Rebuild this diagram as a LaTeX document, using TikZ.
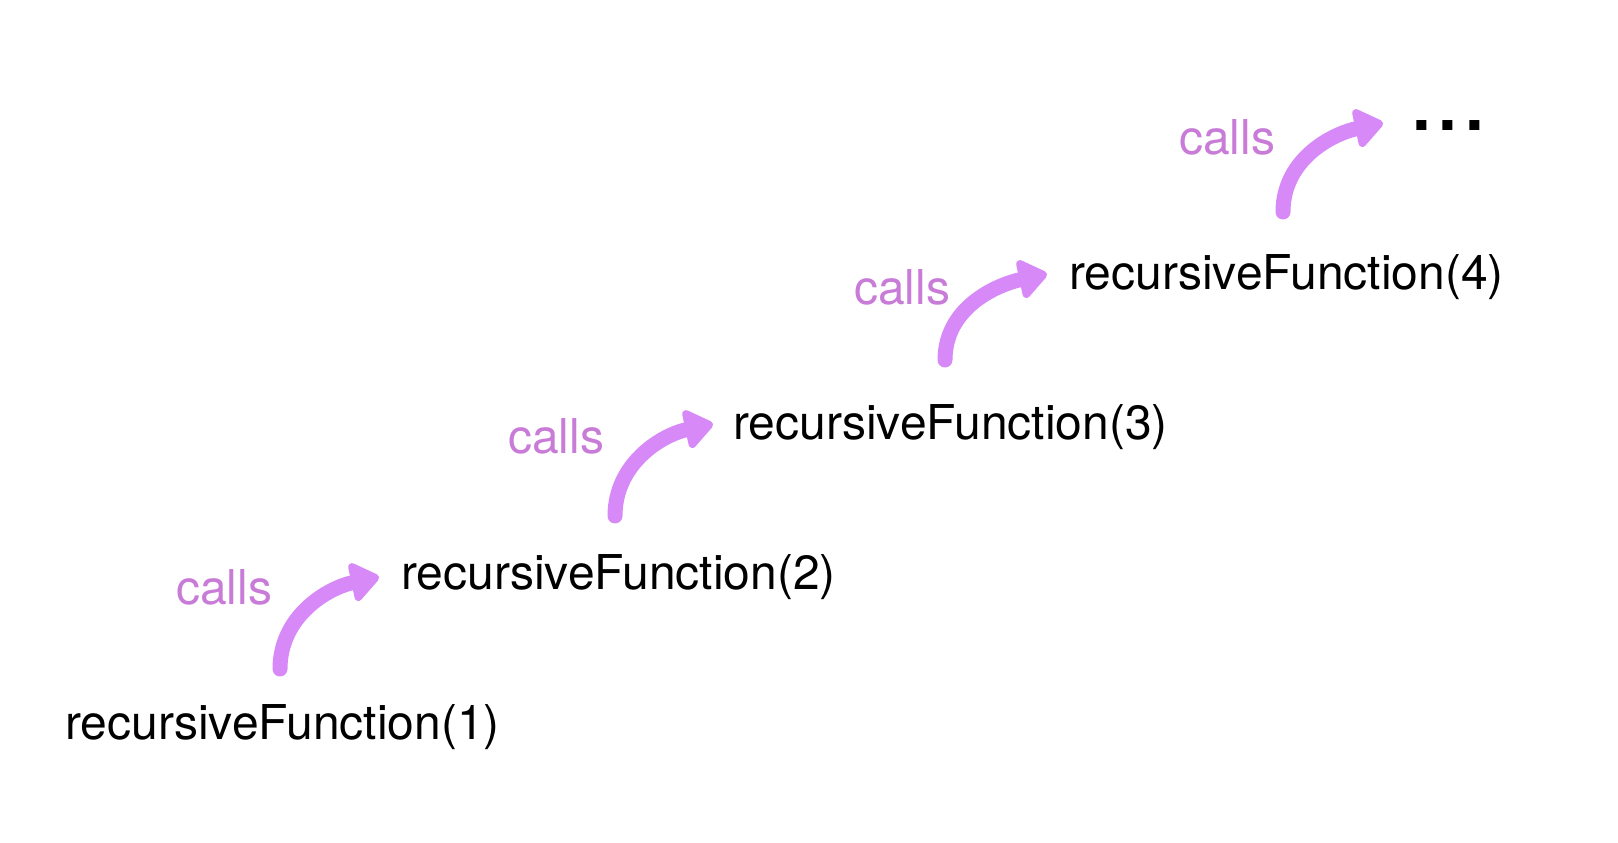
\documentclass[tikz,border=0pt]{standalone}
\usepackage{fontspec}
\setmainfont{TeX Gyre Heros}
\usetikzlibrary{arrows.meta,calc}
\definecolor{arrowpurple}{RGB}{214,137,247}
\definecolor{callpurple}{RGB}{200,124,216}
\begin{document}
\begin{tikzpicture}[x=1pt,y=1pt,
  fn/.style={anchor=base west,inner sep=0pt,font=\fontsize{48}{58}\selectfont,text=black},
  lbl/.style={anchor=base west,inner sep=0pt,font=\fontsize{48}{58}\selectfont,text=callpurple},
  callarrow/.style={draw=arrowpurple,line width=15pt,line cap=round,
    -{Triangle[length=31pt,width=44pt,round,line width=10pt]}}]
\useasboundingbox[fill=white] (0,0) rectangle (1618,843);
\node[fn] (t1) at (65,103) {recursiveFunction(1)};
\node[fn] (t2) at (401,253) {recursiveFunction(2)};
\node[fn] (t3) at (733,403) {recursiveFunction(3)};
\node[fn] (t4) at (1069,553) {recursiveFunction(4)};
\node[anchor=base west,inner sep=0pt,font=\fontsize{96}{100}\selectfont] (dots) at (1408,712) {...};
\node[lbl] (c1) at (176,238) {calls};
\node[lbl] (c2) at (508,389) {calls};
\node[lbl] (c3) at (854,538) {calls};
\node[lbl] (c4) at (1179,688) {calls};
\coordinate (s1) at ($(t1.base west)+(215,71)$);
\coordinate (s2) at ($(t2.base west)+(214,74)$);
\coordinate (s3) at ($(t3.base west)+(212,80)$);
\coordinate (s4) at ($(t4.base west)+(214,78)$);
\coordinate (e1) at ($(t2.base west)+(-22,13)$);
\coordinate (e2) at ($(t3.base west)+(-20,16)$);
\coordinate (e3) at ($(t4.base west)+(-22,16)$);
\coordinate (e4) at ($(dots.base west)+(-25,8)$);
\draw[callarrow] (s1) to[out=90,in=192] (e1);
\draw[callarrow] (s2) to[out=90,in=192] (e2);
\draw[callarrow] (s3) to[out=90,in=192] (e3);
\draw[callarrow] (s4) to[out=90,in=192] (e4);
\end{tikzpicture}
\end{document}
